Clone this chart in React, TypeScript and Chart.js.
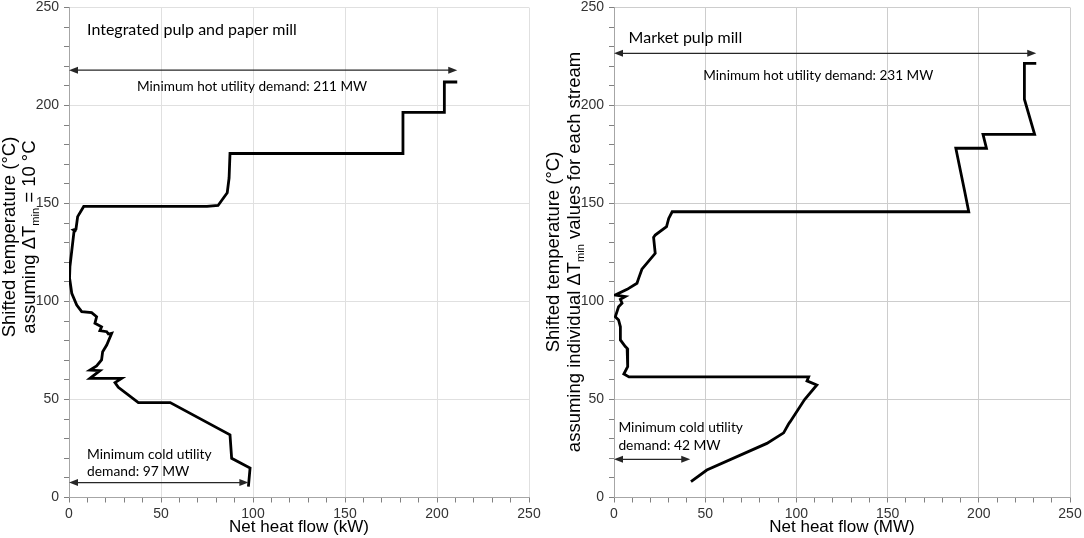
import React, { useEffect, useRef } from 'react';
import { Chart, registerables } from 'chart.js';

Chart.register(...registerables);

// Integrated pulp and paper mill, grand composite curve (top to bottom)
const integratedHeat = [211, 204, 204, 181.5, 181.5, 87.5, 87, 86, 81, 75, 8, 4.7, 3.8, 2.4, 3.2, 2.7, 0.5, 0.3, 1.5, 4.2, 6.9, 12.3, 15, 14.1, 17.7, 16.8, 20.5, 21.4, 23.2, 20.5, 18.3, 17.7, 15, 11.4, 16.8, 11.4, 28.6, 25, 26.8, 37.7, 55, 87.5, 88.4, 98.4, 97.5];
const integratedTemp = [212, 212, 196.5, 196.5, 175.5, 175.5, 163, 155.5, 149, 148.5, 148.5, 143.3, 137, 136.5, 136, 135.5, 117.8, 112, 104.2, 98.2, 94.8, 94.3, 92.2, 88.9, 87.1, 85.1, 84.6, 83.4, 83.8, 77.8, 74.4, 70.2, 67.1, 65, 64.7, 60.8, 60.8, 58.6, 56.2, 48.4, 48.4, 32, 20, 15, 5.5];

// Market pulp mill, grand composite curve (top to bottom)
const marketHeat = [231.5, 225, 225, 230.6, 202.3, 204.2, 187.4, 192.3, 194.5, 31.9, 30, 28.8, 22.6, 21.7, 22.6, 15.3, 13.5, 12.6, 7.2, 0.7, 6.2, 3.5, 4.4, 2.5, 0.7, 2.5, 3.5, 3.5, 6.2, 7.2, 7.5, 5.4, 8.2, 106.7, 105.8, 111.2, 104.5, 96.6, 95.7, 93, 83.8, 50.9, 42.2];
const marketTemp = [221.5, 221.5, 203.2, 185.3, 185.3, 178.2, 178.2, 156, 145.8, 145.8, 142.4, 138.2, 133.9, 132.7, 124.6, 116.5, 111.8, 109.3, 106.2, 103.3, 102.5, 101.1, 99.1, 97.3, 92.2, 90.6, 87.1, 80.4, 77, 76.1, 66.7, 63, 61.5, 61.5, 59.5, 57.4, 50, 38.7, 37.5, 33, 27.6, 14, 8.1];

const axisLabels = [0, 50, 100, 150, 200, 250];

const ARIAL = '"Liberation Sans", Arial, sans-serif';
const NOTE = 'Lato, "Open Sans", sans-serif';

type Note = { text: string; x: number; y: number; align: CanvasTextAlign; size: number };
type Arrow = { y: number; to: number };
type Part = { text: string; sub?: boolean };

interface PanelProps {
  heat: number[];
  temp: number[];
  unit: string;
  titleLines: Part[][];
  titleX: number[];
  titleY: number;
  plotLeft: number;
  plotRight: number;
  gridLine: string;
  notes: Note[];
  arrows: Arrow[];
}

const drawRotated = (ctx: CanvasRenderingContext2D, cx: number, cy: number, parts: Part[], size: number) => {
  const main = `${size}px ${ARIAL}`;
  const sub = `${Math.round(size * 0.62)}px ${ARIAL}`;
  const widths = parts.map((p) => {
    ctx.font = p.sub ? sub : main;
    return ctx.measureText(p.text).width;
  });
  const total = widths.reduce((a, b) => a + b, 0);
  ctx.save();
  ctx.translate(cx, cy);
  ctx.rotate(-Math.PI / 2);
  ctx.fillStyle = '#000';
  ctx.textBaseline = 'middle';
  ctx.textAlign = 'left';
  let x = -total / 2;
  parts.forEach((p, i) => {
    ctx.font = p.sub ? sub : main;
    ctx.fillText(p.text, x, p.sub ? size * 0.32 : 0);
    x += widths[i];
  });
  ctx.restore();
};

const Panel: React.FC<PanelProps> = (props) => {
  const chartRef = useRef<HTMLCanvasElement>(null);
  const chartInstanceRef = useRef<Chart | null>(null);

  useEffect(() => {
    if (!chartRef.current) return;
    const ctx = chartRef.current.getContext('2d');
    if (!ctx) return;
    if (chartInstanceRef.current) {
      chartInstanceRef.current.destroy();
      chartInstanceRef.current = null;
    }

    const overlay = {
      id: 'overlay',
      afterDatasetsDraw(chart: Chart) {
        const c = chart.ctx;
        const xs = chart.scales.x;
        const ys = chart.scales.y;
        // arrows with heads at both ends
        c.save();
        c.strokeStyle = '#262626';
        c.fillStyle = '#262626';
        c.lineWidth = 1.3;
        props.arrows.forEach((a) => {
          const y = ys.getPixelForValue(a.y);
          const x0 = xs.getPixelForValue(0);
          const x1 = xs.getPixelForValue(a.to);
          c.beginPath();
          c.moveTo(x0 + 4, y);
          c.lineTo(x1 - 4, y);
          c.stroke();
          c.beginPath();
          c.moveTo(x0, y);
          c.lineTo(x0 + 9, y - 3.5);
          c.lineTo(x0 + 9, y + 3.5);
          c.closePath();
          c.fill();
          c.beginPath();
          c.moveTo(x1, y);
          c.lineTo(x1 - 9, y - 3.5);
          c.lineTo(x1 - 9, y + 3.5);
          c.closePath();
          c.fill();
        });
        c.textBaseline = 'middle';
        c.fillStyle = '#000';
        props.notes.forEach((n) => {
          c.font = `${n.size}px ${NOTE}`;
          c.textAlign = n.align;
          c.fillText(n.text, xs.getPixelForValue(n.x), ys.getPixelForValue(n.y));
        });
        c.restore();
      },
      afterDraw(chart: Chart) {
        props.titleLines.forEach((line, i) => {
          drawRotated(chart.ctx, props.titleX[i], props.titleY, line, 18.5);
        });
      },
    };

    const gridColor = (c: any) => (c.tick && c.tick.value % 50 === 0 && c.tick.value !== 0 ? props.gridLine : 'rgba(0,0,0,0)');
    const tickLabel = (v: any) => (axisLabels.includes(Number(v)) ? String(v) : '');

    chartInstanceRef.current = new Chart(ctx, {
      type: 'scatter',
      data: {
        datasets: [
          {
            data: props.heat.map((h, i) => ({ x: h, y: props.temp[i] })),
            showLine: true,
            borderColor: '#000',
            borderWidth: 2.8,
            pointRadius: 0,
            borderJoinStyle: 'miter',
            tension: 0,
          },
        ],
      },
      options: {
        animation: false,
        responsive: false,
        events: [],
        layout: { padding: { top: 7.5, right: 542 - props.plotRight, left: 0, bottom: 0 } },
        plugins: { legend: { display: false }, tooltip: { enabled: false } },
        scales: {
          x: {
            type: 'linear',
            min: 0,
            max: 250,
            afterFit: (s: any) => {
              s.height = 40.5;
              s.paddingLeft = 0;
              s.paddingRight = 0;
            },
            ticks: {
              stepSize: 10,
              autoSkip: false,
              maxRotation: 0,
              padding: 3,
              color: '#333',
              font: { family: ARIAL, size: 14 },
              callback: tickLabel,
            },
            grid: { color: gridColor, tickColor: '#808080', tickLength: 5, tickWidth: 1, drawTicks: true },
            border: { color: '#a6a6a6', width: 1 },
            title: {
              display: true,
              text: `Net heat flow (${props.unit})`,
              color: '#000',
              font: { family: ARIAL, size: 17 },
              padding: { top: -7, bottom: 0 },
            },
          },
          y: {
            type: 'linear',
            min: 0,
            max: 250,
            afterFit: (s: any) => {
              s.width = props.plotLeft;
              s.paddingTop = 0;
              s.paddingBottom = 0;
            },
            ticks: {
              stepSize: 10,
              autoSkip: false,
              padding: 5,
              color: '#333',
              font: { family: ARIAL, size: 14 },
              callback: tickLabel,
            },
            grid: { color: gridColor, tickColor: '#808080', tickLength: 5, tickWidth: 1, drawTicks: true },
            border: { color: '#a6a6a6', width: 1 },
          },
        },
      },
      plugins: [overlay],
    });

    return () => {
      if (chartInstanceRef.current) {
        chartInstanceRef.current.destroy();
        chartInstanceRef.current = null;
      }
    };
  }, [props]);

  return <canvas ref={chartRef} width={542} height={538} style={{ display: 'block', width: 542, height: 538 }} />;
};

const leftProps: PanelProps = {
  heat: integratedHeat,
  temp: integratedTemp,
  unit: 'kW',
  titleLines: [
    [{ text: 'Shifted temperature (°C)' }],
    [{ text: 'assuming ΔT' }, { text: 'min', sub: true }, { text: ' = 10 °C' }],
  ],
  titleX: [10, 30],
  titleY: 237,
  plotLeft: 69,
  plotRight: 529,
  gridLine: '#e0e0e0',
  notes: [
    { text: 'Integrated pulp and paper mill', x: 9.8, y: 238.5, align: 'left', size: 16 },
    { text: 'Minimum hot utility demand: 211 MW', x: 99.5, y: 209.6, align: 'center', size: 13.6 },
    { text: 'Minimum cold utility', x: 9.8, y: 21.7, align: 'left', size: 13.8 },
    { text: 'demand: 97 MW', x: 9.8, y: 13.2, align: 'left', size: 13.8 },
  ],
  arrows: [
    { y: 218, to: 211 },
    { y: 7.6, to: 97.5 },
  ],
};

const rightProps: PanelProps = {
  heat: marketHeat,
  temp: marketTemp,
  unit: 'MW',
  titleLines: [
    [{ text: 'Shifted temperature (°C)' }],
    [{ text: 'assuming individual ΔT' }, { text: 'min', sub: true }, { text: ' values for each stream' }],
  ],
  titleX: [12, 33],
  titleY: 252,
  plotLeft: 72,
  plotRight: 528,
  gridLine: '#cdcdcd',
  notes: [
    { text: 'Market pulp mill', x: 8, y: 234.3, align: 'left', size: 16 },
    { text: 'Minimum hot utility demand: 231 MW', x: 112, y: 215, align: 'center', size: 13.6 },
    { text: 'Minimum cold utility', x: 2.4, y: 35.5, align: 'left', size: 13.8 },
    { text: 'demand: 42 MW', x: 2.4, y: 26.4, align: 'left', size: 13.8 },
  ],
  arrows: [
    { y: 226.6, to: 231.5 },
    { y: 19.5, to: 41.8 },
  ],
};

const App: React.FC = () => (
  <div style={{ position: 'absolute', left: 0, top: 0, width: 1084, height: 538, display: 'flex', background: '#fff' }}>
    <Panel {...leftProps} />
    <Panel {...rightProps} />
  </div>
);

export default App;
